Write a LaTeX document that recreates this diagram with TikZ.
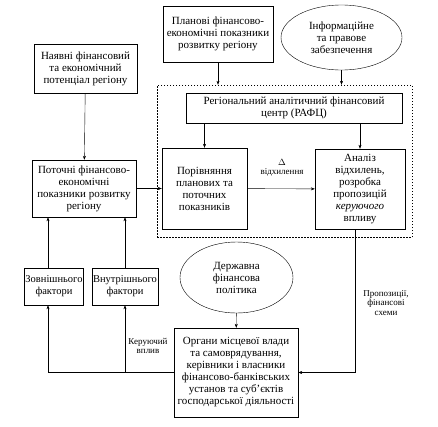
\documentclass[tikz,border=0pt]{standalone}
\usepackage{fontspec}
\setmainfont{Liberation Serif}
\usetikzlibrary{arrows.meta,shapes.geometric}

\tikzset{
	blok/.style = { draw, align = center, inner sep = 1pt, font = \fontsize{11}{12}\selectfont },
	oval/.style = { draw, ellipse, align = center, inner sep = 0pt, font = \fontsize{11}{12}\selectfont },
	pidpys/.style = { align = center, font = \fontsize{9}{9.5}\selectfont },
	ramka/.style = { draw, dash pattern = on 1.5pt off 1.5pt },
}

\begin{document}
\begin{tikzpicture}[ x = 1pt, y = -1pt, >={Stealth[length=4pt,width=3pt]}, thin ]
	\useasboundingbox ( 0, 0 ) rectangle ( 438, 426 );

	% верхній ряд
	\node [ blok, minimum width = 103, minimum height = 49 ] (naiavni) at ( 85.5, 68.5 ) {Наявні фінансовий\\та економічний\\потенціал регіону};
	\node [ blok, minimum width = 110, minimum height = 56 ] (planovi) at ( 218, 34 ) {Планові фінансово-\\економічні показники\\розвитку регіону};
	\node [ oval, minimum width = 121, minimum height = 65 ] (info) at ( 341.5, 37.5 ) {Інформаційне\\та правове\\забезпечення};

	% РАФЦ
	\node [ ramka, minimum width = 255, minimum height = 152 ] (ramka) at ( 284.5, 161 ) {};
	\node [ blok, minimum width = 216, minimum height = 30 ] (rafc) at ( 294, 108 ) {Регіональний аналітичний фінансовий\\центр (РАФЦ)};
	\node [ blok, minimum width = 85, minimum height = 81 ] (porivn) at ( 204.5, 188.5 ) {Порівняння\\планових та\\поточних\\показників};
	\node [ blok, minimum width = 90, minimum height = 80 ] (analiz) at ( 360, 189 ) {Аналіз\\відхилень,\\розробка\\пропозицій\\\textit{керуючого}\\впливу};

	% ліва частина
	\node [ blok, minimum width = 104, minimum height = 57 ] (potochni) at ( 84, 188.5 ) {Поточні фінансово-\\економічні\\показники розвитку\\регіону};
	\node [ blok, font = \fontsize{10.5}{12}\selectfont, minimum width = 58, minimum height = 37 ] (zovn) at ( 54, 286.5 ) {Зовнішнього\\фактори};
	\node [ blok, font = \fontsize{10.5}{12}\selectfont, minimum width = 66, minimum height = 37 ] (vnutr) at ( 125, 286.5 ) {Внутрішнього\\фактори};

	% нижня частина
	\node [ oval, minimum width = 113, minimum height = 71 ] (derzh) at ( 236.5, 277.5 ) {Державна\\фінансова\\політика};
	\node [ blok, minimum width = 124, minimum height = 89 ] (organy) at ( 236, 372.5 ) {Органи місцевої влади\\та самоврядування,\\керівники і власники\\фінансово-банківських\\установ та суб’єктів\\господарської діяльності};

	% підписи
	\node [ pidpys ] (delta) at ( 282, 168 ) {$\Delta$\\відхилення};
	\node [ pidpys ] (propoz) at ( 386, 303 ) {Пропозиції,\\фінансові\\схеми};
	\node [ pidpys ] (keruv) at ( 148, 346 ) {Керуючий\\вплив};

	% зв'язки
	\draw [ -> ] (naiavni) -- (potochni);
	\draw [ -> ] (planovi) -- (planovi.south |- ramka.north);
	\draw [ -> ] (info) -- (info.south |- ramka.north);
	\draw [ -> ] (porivn.north |- rafc.south) -- (porivn);
	\draw [ -> ] (analiz.north |- rafc.south) -- (analiz);
	\draw [ -> ] (potochni) -- (porivn);
	\draw [ -> ] (porivn) -- (analiz);
	\draw [ -> ] ([xshift=-6pt]zovn.north) -- ([xshift=-6pt]zovn.north |- potochni.south);
	\draw [ -> ] (vnutr.north) -- (vnutr.north |- potochni.south);
	\draw [ -> ] (derzh) -- (organy);

	% пропозиції
	\draw [ -> ] ([xshift=-5pt]analiz.south) |- (organy.east);

	% керуючий вплив
	\draw [ -> ] (organy.west) -| ([xshift=-6pt]zovn.south);
	\draw [ -> ] (vnutr.south |- organy.west) -- (vnutr.south);
\end{tikzpicture}
\end{document}
